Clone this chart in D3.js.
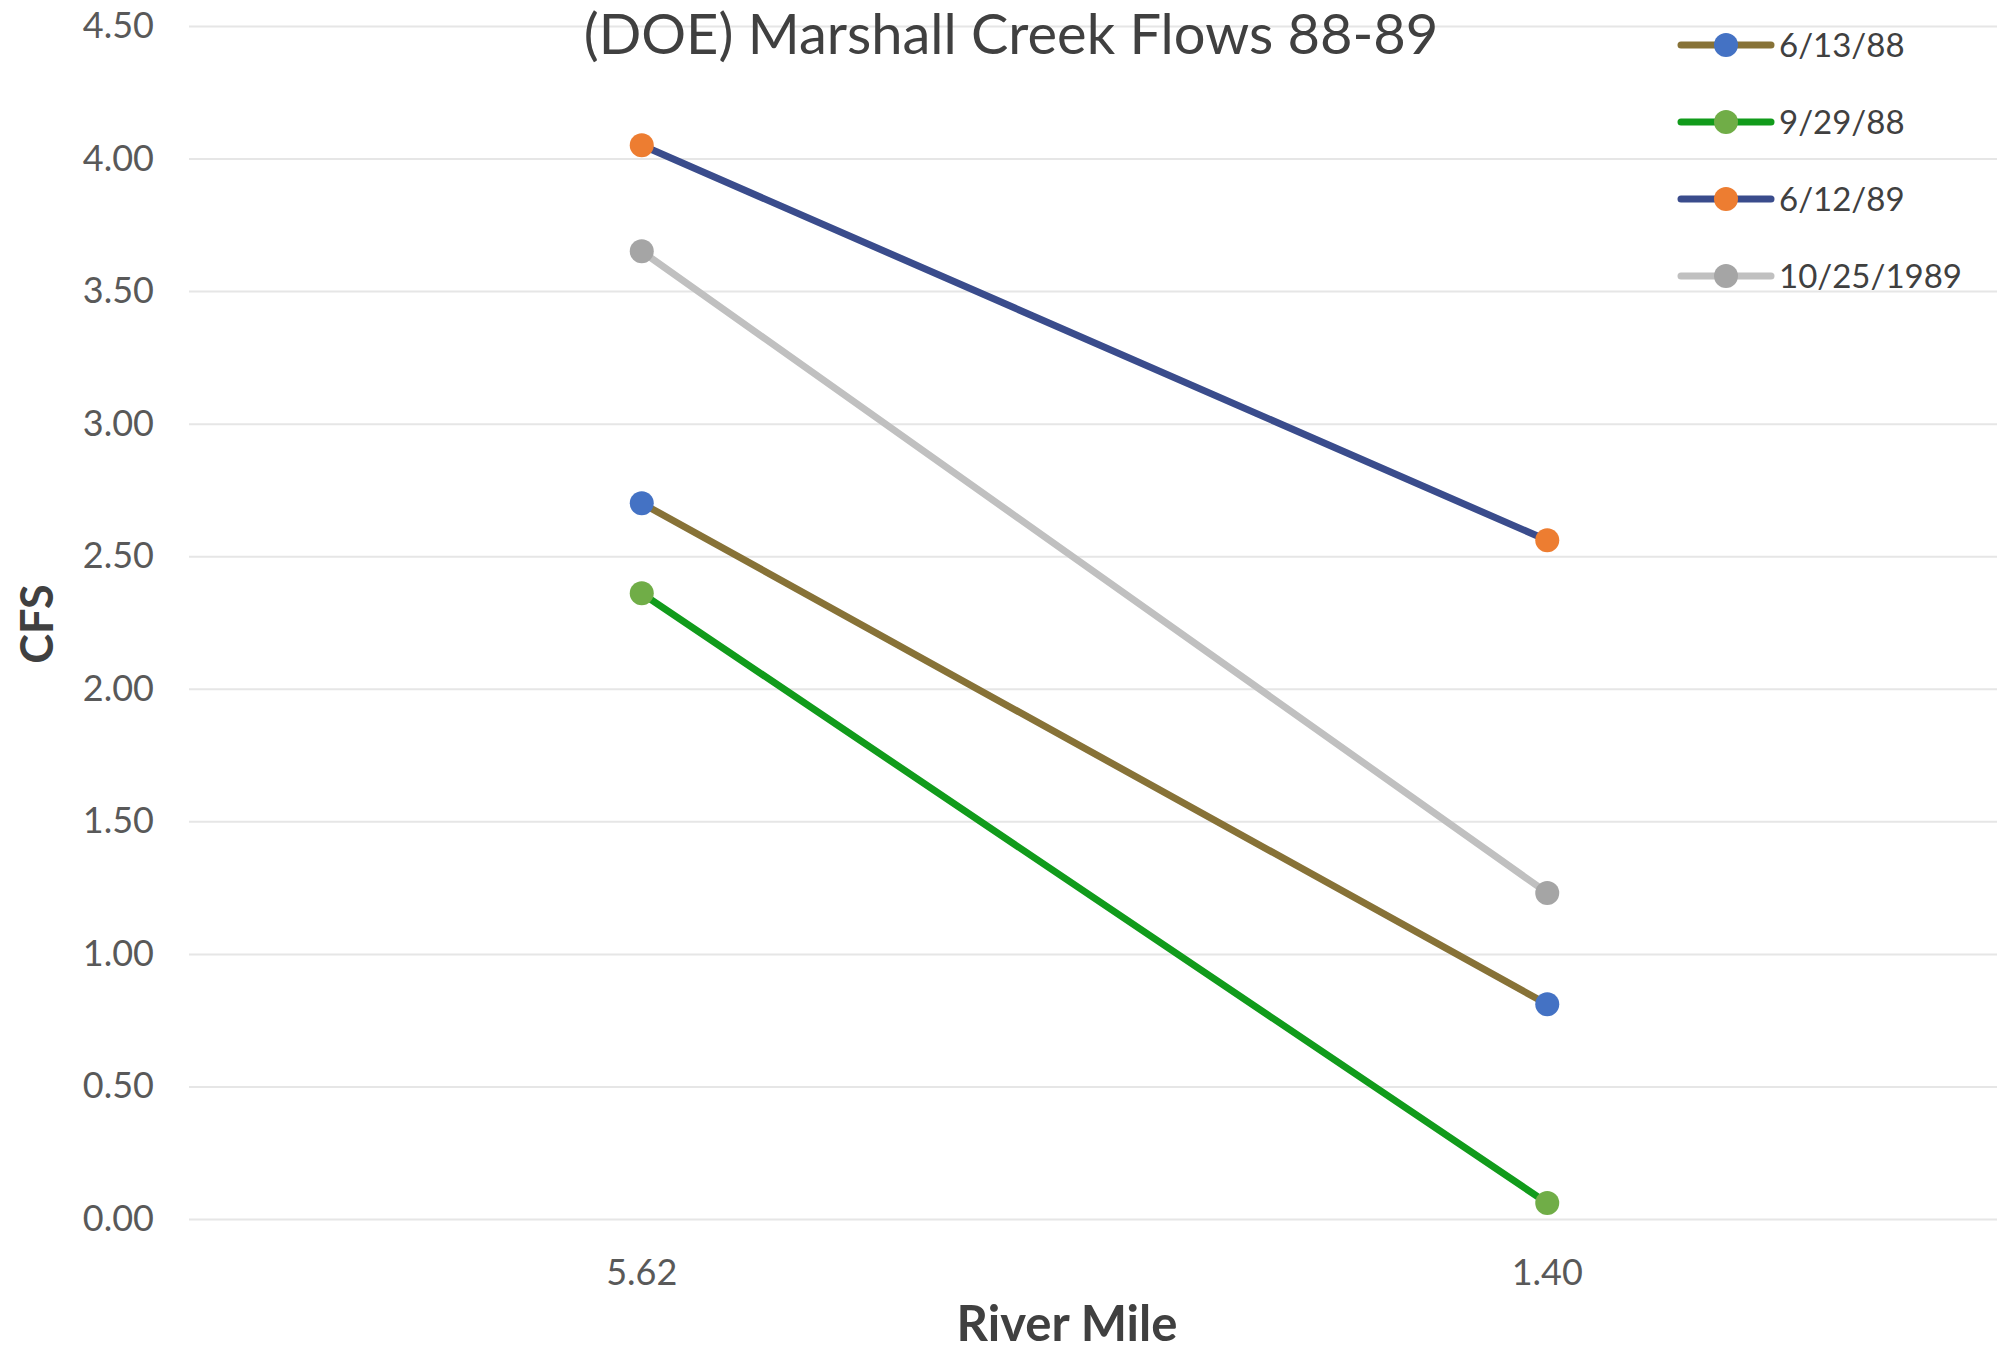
<!DOCTYPE html>
<html>
<head>
<meta charset="utf-8">
<script src="https://cdn.jsdelivr.net/npm/d3@7/dist/d3.min.js"></script>
<style>
  html, body { margin: 0; padding: 0; background: #ffffff; }
  svg { display: block; font-family: Lato, "Open Sans", sans-serif; }
</style>
</head>
<body>
<svg id="chart" width="1997" height="1355"></svg>
<script>
// River mile stations (downstream order)
const riverMiles = ["5.62", "1.40"];

// Flow (CFS) at each station, per survey date
const seriesNames = ["6/13/88", "9/29/88", "6/12/89", "10/25/1989"];
const flows_061388 = [2.70, 0.81];
const flows_092988 = [2.36, 0.06];
const flows_061289 = [4.05, 2.56];
const flows_102589 = [3.65, 1.23];

const lineColors = ["#877237", "#119B1B", "#3A4C8C", "#C0C0C0"];
const markerColors = ["#4472C4", "#70AD47", "#ED7D31", "#A5A5A5"];

const yTicks = [0, 0.5, 1, 1.5, 2, 2.5, 3, 3.5, 4, 4.5];

const series = [flows_061388, flows_092988, flows_061289, flows_102589].map((vals, i) => ({
  name: seriesNames[i],
  line: lineColors[i],
  marker: markerColors[i],
  points: riverMiles.map((m, j) => ({ mile: m, cfs: vals[j] }))
}));

const svg = d3.select("#chart");
const plot = { left: 189, right: 2000, top: 26, bottom: 1219 };

const x = d3.scaleBand().domain(riverMiles).range([plot.left, plot.right]).padding(0);
const y = d3.scaleLinear().domain([0, 4.5]).range([plot.bottom, plot.top]);

// Horizontal gridlines
svg.append("g")
  .attr("transform", `translate(${plot.left},0)`)
  .call(d3.axisLeft(y).tickValues(yTicks).tickSize(-(plot.right - plot.left)).tickFormat(""))
  .call(g => g.select(".domain").remove())
  .call(g => g.selectAll("line").attr("stroke", "#E6E6E6").attr("stroke-width", 2));

// Y tick labels
svg.append("g")
  .attr("transform", `translate(${plot.left},0)`)
  .call(d3.axisLeft(y).tickValues(yTicks).tickSize(0).tickPadding(35).tickFormat(d3.format(".2f")))
  .call(g => g.select(".domain").remove())
  .call(g => g.selectAll("text")
    .attr("fill", "#595959")
    .style("font-size", "36px")
    .style("font-family", "Lato, 'Open Sans', sans-serif"));

// X tick labels
svg.append("g")
  .attr("transform", `translate(0,${plot.bottom})`)
  .call(d3.axisBottom(x).tickSize(0).tickPadding(40))
  .call(g => g.select(".domain").remove())
  .call(g => g.selectAll("text")
    .attr("fill", "#595959")
    .style("font-size", "36px")
    .style("font-family", "Lato, 'Open Sans', sans-serif"));

// Lines
const line = d3.line()
  .x(d => x(d.mile) + x.bandwidth() / 2)
  .y(d => y(d.cfs));

svg.append("g").selectAll("path")
  .data(series)
  .join("path")
  .attr("d", d => line(d.points))
  .attr("fill", "none")
  .attr("stroke", d => d.line)
  .attr("stroke-width", 7)
  .attr("stroke-linecap", "round");

// Markers
svg.append("g").selectAll("g")
  .data(series)
  .join("g")
  .selectAll("circle")
  .data(d => d.points.map(p => ({ ...p, color: d.marker })))
  .join("circle")
  .attr("cx", d => x(d.mile) + x.bandwidth() / 2)
  .attr("cy", d => y(d.cfs))
  .attr("r", 12)
  .attr("fill", d => d.color);

// Title
svg.append("text")
  .attr("x", 1011)
  .attr("y", 54)
  .attr("text-anchor", "middle")
  .attr("fill", "#404040")
  .style("font-size", "56px")
  .text("(DOE) Marshall Creek Flows 88-89");

// Axis titles
svg.append("text")
  .attr("transform", "translate(53,624) rotate(-90)")
  .attr("text-anchor", "middle")
  .attr("fill", "#404040")
  .style("font-size", "45px")
  .style("font-weight", "bold")
  .text("CFS");

svg.append("text")
  .attr("x", 1067)
  .attr("y", 1341)
  .attr("text-anchor", "middle")
  .attr("fill", "#404040")
  .style("font-size", "49px")
  .style("font-weight", "bold")
  .text("River Mile");

// Legend
const legend = svg.append("g").attr("transform", "translate(1681,45)");
const rows = legend.selectAll("g")
  .data(series)
  .join("g")
  .attr("transform", (d, i) => `translate(0,${i * 77})`);
rows.append("line")
  .attr("x1", 0).attr("x2", 90)
  .attr("stroke", d => d.line)
  .attr("stroke-width", 7)
  .attr("stroke-linecap", "round");
rows.append("circle")
  .attr("cx", 45).attr("r", 12)
  .attr("fill", d => d.marker);
rows.append("text")
  .attr("x", 98)
  .attr("dy", "0.35em")
  .attr("fill", "#404040")
  .style("font-size", "33px")
  .text(d => d.name);
</script>
</body>
</html>
